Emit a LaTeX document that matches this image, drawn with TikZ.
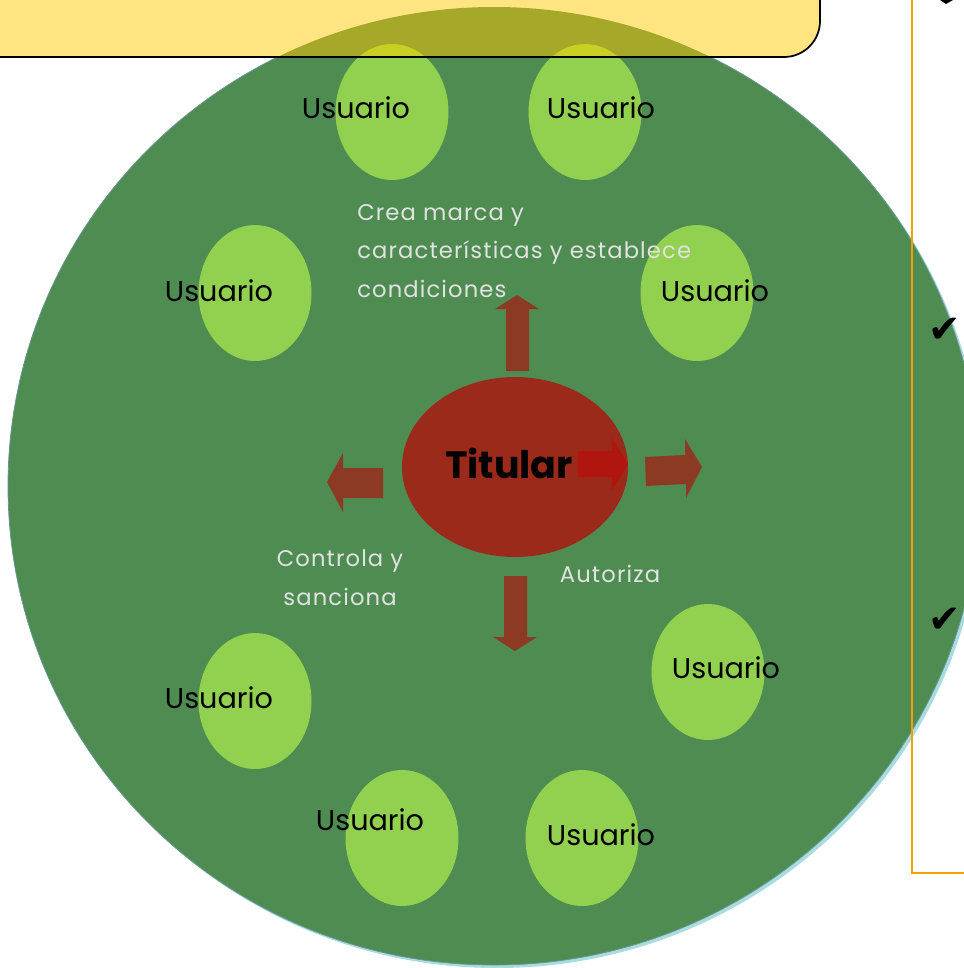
\documentclass[tikz,border=0pt]{standalone}
\usepackage{fontspec}
\setmainfont{Poppins}
\newfontfamily\symfont{DejaVu Sans}
\newfontfamily\lblfont[LetterSpace=5]{Poppins}
\usetikzlibrary{shapes.geometric}
\definecolor{circgreen}{RGB}{79,140,82}
\definecolor{circedge}{RGB}{104,150,150}
\definecolor{shadowcyan}{RGB}{168,220,222}
\definecolor{usrgreen}{RGB}{146,208,80}
\definecolor{titred}{RGB}{156,42,26}
\definecolor{arrowbrown}{RGB}{140,58,36}
\definecolor{arrowred}{RGB}{180,18,12}
\definecolor{boxyellow}{RGB}{255,228,130}
\definecolor{olive}{RGB}{166,168,42}
\definecolor{usrolive}{RGB}{201,208,36}
\definecolor{labelgray}{RGB}{226,226,226}
\definecolor{boxorange}{RGB}{245,160,0}
\tikzset{
  usr/.style={ellipse, fill=usrgreen, inner sep=0pt, minimum width=84.75pt, minimum height=102pt},
  usrtext/.style={font=\fontsize{21.5}{21.5}\selectfont, text=black, inner sep=0pt},
  lbl/.style={font=\lblfont\fontsize{17}{29}\selectfont, text=labelgray, inner sep=0pt},
  blockarrow/.style={fill=arrowbrown},
  checkmark/.style={font=\symfont\fontsize{29}{29}\selectfont, inner sep=0pt}
}
\begin{document}
\begin{tikzpicture}[x=0.75pt,y=-0.75pt]
\useasboundingbox (0,0) rectangle (964,968);
\clip (0,0) rectangle (964,968);
% big circle
\fill[shadowcyan] (497,489) ellipse [x radius=486, y radius=479];
\draw[circedge, fill=circgreen, line width=0.6pt] (494,486) ellipse [x radius=486, y radius=479];
% user ellipses
\node[usr] (u1) at (392,112) {};
\node[usr] (u2) at (585,112) {};
\node[usr] (u3) at (255,293) {};
\node[usr] (u4) at (697,293) {};
\node[usr] (u5) at (708,672) {};
\node[usr] (u6) at (255,701) {};
\node[usr] (u7) at (402,838) {};
\node[usr] (u8) at (582,838) {};
% yellow box with overlaps
\fill[boxyellow] (-60,-60) [rounded corners=27pt] rectangle (820,57);
\begin{scope}
  \clip (-60,-60) [rounded corners=27pt] rectangle (820,57);
  \fill[olive] (494,486) ellipse [x radius=486, y radius=479];
  \fill[usrolive] (u1.center) ellipse [x radius=56.5, y radius=68];
  \fill[usrolive] (u2.center) ellipse [x radius=56.5, y radius=68];
\end{scope}
\draw[black, line width=1.3pt] (-60,-60) [rounded corners=27pt] rectangle (820,57);
% orange frame
\draw[boxorange, line width=1.8pt] (912,-10) -- (912,873) -- (980,873);
% check marks
\fill[black] (940,0) -- (953,0) -- (946,4) -- cycle;
\node[checkmark] (ck1) at (945,330) {✔};
\node[checkmark] (ck2) at (945,620) {✔};
% titular
\node[ellipse, fill=titred, inner sep=0pt, minimum width=169.5pt, minimum height=135pt] (tit) at (515,467) {};
% arrows
\fill[blockarrow] (506,371) -- (506,309) -- (495,309) -- (517,295) -- (539,309) -- (529,309) -- (529,371) -- cycle;
\fill[blockarrow] (383,468) -- (343,468) -- (343,453) -- (327,482) -- (343,512) -- (343,498) -- (383,498) -- cycle;
\fill[blockarrow] (645,457) -- (685,455) -- (685,439) -- (702,467) -- (686,498) -- (686,484) -- (646,486) -- cycle;
\fill[blockarrow] (504,576) -- (527,576) -- (527,637) -- (537,637) -- (515,651) -- (493,637) -- (504,637) -- cycle;
\fill[arrowred, opacity=0.85] (578,451) -- (612,451) -- (612,438) -- (628,464) -- (612,491) -- (612,477) -- (578,477) -- cycle;
\node[font=\bfseries\fontsize{28.5}{28.5}\selectfont, inner sep=0pt] (titt) at (509,463) {Titular};
% user texts
\node[usrtext] (t1) at (356,108) {Usuario};
\node[usrtext] (t2) at (601,108) {Usuario};
\node[usrtext] (t3) at (219,291) {Usuario};
\node[usrtext] (t4) at (715,291) {Usuario};
\node[usrtext] (t5) at (726,668) {Usuario};
\node[usrtext] (t6) at (219,698) {Usuario};
\node[usrtext] (t7) at (370,820) {Usuario};
\node[usrtext] (t8) at (601,835) {Usuario};
% labels
\node[lbl, align=left, anchor=west] (l1) at (357,251) {Crea marca y\\características y establece\\condiciones};
\node[lbl, align=center] (l2) at (340,578) {Controla y\\sanciona};
\node[lbl] (l3) at (610,574) {Autoriza};
\end{tikzpicture}
\end{document}
